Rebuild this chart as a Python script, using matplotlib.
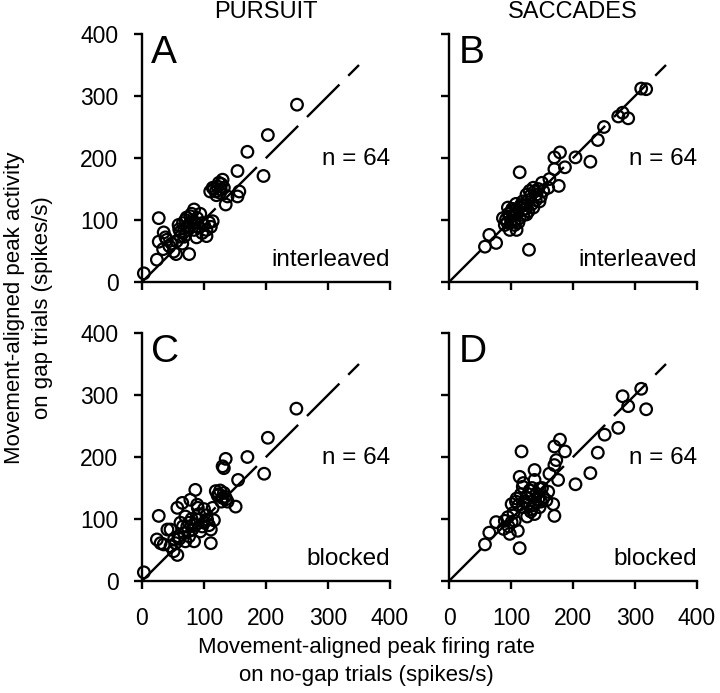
import matplotlib
matplotlib.use("Agg")
import matplotlib.pyplot as plt

plt.rcParams['font.family'] = ['Liberation Sans', 'DejaVu Sans']
plt.rcParams['lines.scale_dashes'] = False

# peak firing rate on no-gap trials (x) vs gap trials (y), spikes/s
pursuit_inter_x = [3, 27, 24, 27, 35, 34, 40, 51, 55, 76, 59, 62, 68, 65, 70, 78, 84, 89,
                   97, 97, 111, 114, 84, 73, 62, 135, 138, 154, 157, 114, 122, 130, 127, 119,
                   154, 170, 196, 203, 250,
                   60, 66, 72, 80, 86, 92, 100, 104, 108, 94, 78, 68, 56, 48, 116, 124, 128,
                   132, 126, 120, 110, 44, 38, 88, 104]
pursuit_inter_y = [14, 103, 36, 65, 80, 53, 68, 49, 45, 45, 92, 81, 73, 62, 100, 106, 117, 103,
                   95, 79, 89, 98, 84, 89, 73, 125, 138, 138, 146, 152, 154, 165, 149, 146,
                   179, 210, 171, 237, 286,
                   85, 95, 104, 110, 96, 88, 92, 84, 96, 110, 96, 86, 66, 62, 150, 160, 158,
                   152, 144, 140, 146, 58, 72, 72, 74]

sacc_inter_x = [58, 65, 76, 114, 129, 90, 92, 98, 98, 101, 106, 114, 119, 125, 130, 136, 141,
                146, 136, 125, 114, 109, 152, 160, 162, 170, 177, 187, 170, 179, 204, 228, 240,
                250, 273, 280, 289, 310, 318, 87, 95,
                96, 104, 110, 118, 122, 128, 132, 138, 144, 100, 106, 112, 120, 128, 134, 140,
                148, 116, 124, 102, 94, 108, 150]
sacc_inter_y = [57, 76, 63, 177, 52, 92, 101, 106, 84, 114, 98, 120, 130, 141, 147, 152, 141,
                130, 120, 109, 103, 84, 147, 152, 166, 182, 155, 185, 201, 209, 201, 194, 229,
                250, 267, 273, 264, 312, 311, 103, 120,
                110, 108, 112, 116, 124, 132, 140, 146, 150, 96, 92, 96, 108, 114, 126, 132,
                138, 124, 118, 118, 96, 126, 160]

pursuit_block_x = [3, 27, 24, 30, 35, 41, 46, 51, 57, 54, 59, 57, 65, 78, 86, 89, 70, 76, 81,
                   84, 68, 89, 97, 105, 111, 111, 114, 119, 124, 130, 132, 138, 151, 130, 135,
                   132, 155, 170, 197, 203, 249, 62, 73, 46,
                   66, 80, 92, 100, 104, 86, 94, 108, 76, 60, 122, 128, 134, 126, 136, 100,
                   116, 90, 70, 52]
pursuit_block_y = [14, 105, 67, 61, 59, 83, 56, 48, 42, 61, 72, 118, 126, 131, 147, 123, 104,
                   94, 83, 64, 77, 99, 88, 99, 83, 61, 118, 145, 140, 134, 142, 128, 120, 185,
                   197, 182, 163, 200, 173, 231, 278, 94, 88, 83,
                   88, 100, 108, 94, 106, 90, 80, 90, 72, 68, 138, 128, 136, 146, 132, 116,
                   98, 118, 64, 68]

sacc_block_x = [58, 65, 76, 98, 111, 114, 90, 95, 101, 106, 101, 109, 117, 114, 119, 125, 127,
                133, 138, 138, 138, 146, 152, 157, 168, 170, 162, 170, 173, 170, 179, 187, 176,
                204, 228, 240, 251, 273, 280, 289, 310, 318, 130, 141, 119, 146,
                122, 128, 134, 140, 144, 132, 126, 116, 120, 148, 136, 104, 96, 88, 150, 108,
                112, 160]
sacc_block_y = [59, 78, 95, 76, 81, 53, 97, 103, 95, 97, 124, 133, 209, 168, 152, 135, 124,
                116, 108, 179, 163, 149, 135, 130, 124, 105, 173, 187, 195, 217, 228, 209, 163,
                156, 174, 207, 236, 247, 298, 282, 310, 277, 146, 141, 119, 119,
                128, 140, 150, 126, 132, 112, 104, 140, 158, 128, 122, 110, 88, 84, 150, 128,
                122, 144]

letters = ["A", "B", "C", "D"]
conditions = ["interleaved", "interleaved", "blocked", "blocked"]
col_titles = ["PURSUIT", "SACCADES"]
n_text = "n = 64"

panels = [(pursuit_inter_x, pursuit_inter_y), (sacc_inter_x, sacc_inter_y),
          (pursuit_block_x, pursuit_block_y), (sacc_block_x, sacc_block_y)]

W, H = 720, 693
fig = plt.figure(figsize=(W / 100, H / 100), dpi=100)

lefts = [142, 449]
bottoms = [282, 581]   # pixel y of the x axis (from top)
size = 248

for i, (xs, ys) in enumerate(panels):
    row, col = divmod(i, 2)
    l = lefts[col] / W
    b = 1 - bottoms[row] / H
    ax = fig.add_axes([l, b, size / W, size / H])
    ax.set_xlim(0, 400)
    ax.set_ylim(0, 400)
    for s in ["top", "right"]:
        ax.spines[s].set_visible(False)
    for s in ["left", "bottom"]:
        ax.spines[s].set_linewidth(1.7)
    ax.set_xticks([0, 100, 200, 300, 400])
    ax.set_yticks([0, 100, 200, 300, 400])
    ax.tick_params(direction="out", length=6, width=1.7, labelsize=16.5)
    ax.tick_params(axis="x", pad=13)
    ax.tick_params(axis="y", pad=11)
    if row == 0:
        ax.set_xticklabels([])
    if col == 1:
        ax.set_yticklabels([])

    ax.plot([0, 350], [0, 350], color="black", lw=1.7, dashes=(33, 9), zorder=1)
    ax.scatter(xs, ys, s=70, facecolors="none", edgecolors="black", linewidths=1.6,
               clip_on=False, zorder=2)

    ax.text(15, 398, letters[i], fontsize=28, ha="left", va="top")
    ax.text(400, 198, n_text, fontsize=17.5, ha="right", va="center")
    ax.text(400, 36, conditions[i], fontsize=17.5, ha="right", va="center")

    if row == 0:
        ax.text(200, 1.0 + 22 / 248, col_titles[col], fontsize=17, ha="center",
                va="center", transform=ax.get_xaxis_transform())

fig.text(366 / W, 1 - 647 / H, "Movement-aligned peak firing rate", fontsize=16,
         ha="center", va="center")
fig.text(366 / W, 1 - 676 / H, "on no-gap trials (spikes/s)", fontsize=16,
         ha="center", va="center")
fig.text(15 / W, 1 - 308 / H, "Movement-aligned peak activity", fontsize=16,
         ha="center", va="center", rotation=90)
fig.text(43 / W, 1 - 308 / H, "on gap trials (spikes/s)", fontsize=16,
         ha="center", va="center", rotation=90)

fig.savefig("out.png", dpi=100)
